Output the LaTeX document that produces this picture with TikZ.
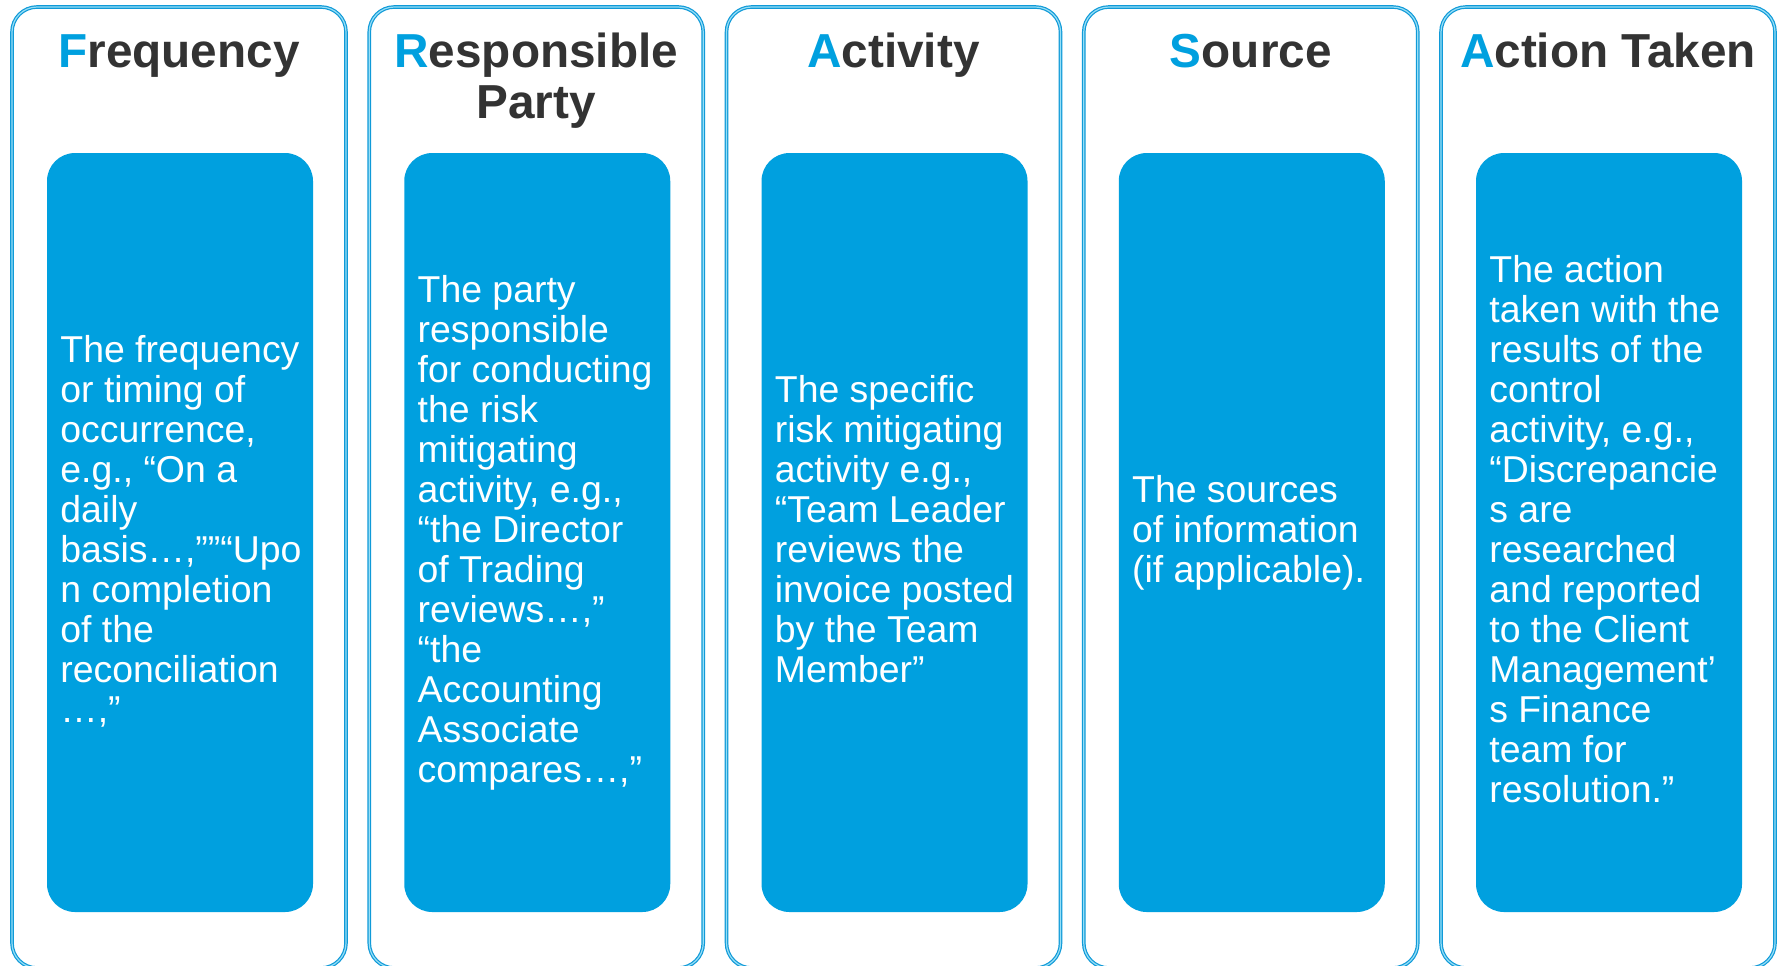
\documentclass[tikz,border=0pt]{standalone}
\usepackage{fontspec}
\setmainfont{Liberation Sans}
\definecolor{boxblue}{RGB}{0,160,223}
\definecolor{edgeblue}{RGB}{16,154,216}
\definecolor{edgelight}{RGB}{150,222,246}
\definecolor{headgray}{RGB}{51,51,51}
\newcommand{\capblue}[1]{\textcolor{boxblue}{#1}}
\newcommand{\bodypar}[1]{\parbox[t]{128pt}{\raggedright #1}}
\tikzset{
  outerbox/.style={draw=edgeblue, line width=0.6pt, double=edgelight,
    double distance=0.6pt, rounded corners=12.5pt, minimum width=167pt,
    minimum height=480.5pt, inner sep=0pt, fill=white},
  innerbox/.style={fill=boxblue, rounded corners=14pt, minimum width=133pt,
    minimum height=379.5pt, inner sep=0pt},
  heading/.style={anchor=base, inner sep=0pt, text=headgray,
    font=\fontsize{23.85pt}{25.5pt}\selectfont\bfseries},
  body/.style={anchor=base west, inner sep=0pt, text=white,
    font=\fontsize{18.7pt}{20pt}\selectfont},
}
\begin{document}
\begin{tikzpicture}[x=0.5pt,y=-0.5pt]
  \useasboundingbox (0,0) rectangle (1781,965);
  \clip (0,0) rectangle (1781,965);

  % column frames
  \node[outerbox] (o1) at (179,487.5) {};
  \node[outerbox] (o2) at (536.25,487.5) {};
  \node[outerbox] (o3) at (893.5,487.5) {};
  \node[outerbox] (o4) at (1250.75,487.5) {};
  \node[outerbox] (o5) at (1608,487.5) {};

  % blue panels
  \node[innerbox] (p1) at (180,532.5) {};
  \node[innerbox] (p2) at (537.25,532.5) {};
  \node[innerbox] (p3) at (894.5,532.5) {};
  \node[innerbox] (p4) at (1251.75,532.5) {};
  \node[innerbox] (p5) at (1609,532.5) {};

  % headings
  \node[heading] (h1) at (179,67) {\capblue{F}requency};
  \node[heading] (h2) at (536.25,67) {\parbox[t]{165pt}{\centering\capblue{R}esponsible\\Party}};
  \node[heading] (h3) at (893.5,67) {\capblue{A}ctivity};
  \node[heading] (h4) at (1250.75,67) {\capblue{S}ource};
  \node[heading] (h5) at (1608,67) {\capblue{A}ction Taken};

  % panel texts
  \node[body] (t1) at (60,362.5) {\bodypar{The frequency\\or timing of\\occurrence,\\e.g., “On a\\daily\\basis…,””“Upo\\n completion\\of the\\reconciliation\\…,”}};
  \node[body] (t2) at (417.25,302.5) {\bodypar{The party\\responsible\\for conducting\\the risk\\mitigating\\activity, e.g.,\\“the Director\\of Trading\\reviews…,”\\“the\\Accounting\\Associate\\compares…,”}};
  \node[body] (t3) at (774.5,402.5) {\bodypar{The specific\\risk mitigating\\activity e.g.,\\“Team Leader\\reviews the\\invoice posted\\by the Team\\Member”}};
  \node[body] (t4) at (1131.75,502.5) {\bodypar{The sources\\of information\\(if applicable).}};
  \node[body] (t5) at (1489,282.5) {\bodypar{The action\\taken with the\\results of the\\control\\activity, e.g.,\\“Discrepancie\\s are\\researched\\and reported\\to the Client\\Management’\\s Finance\\team for\\resolution.”}};
\end{tikzpicture}
\end{document}
